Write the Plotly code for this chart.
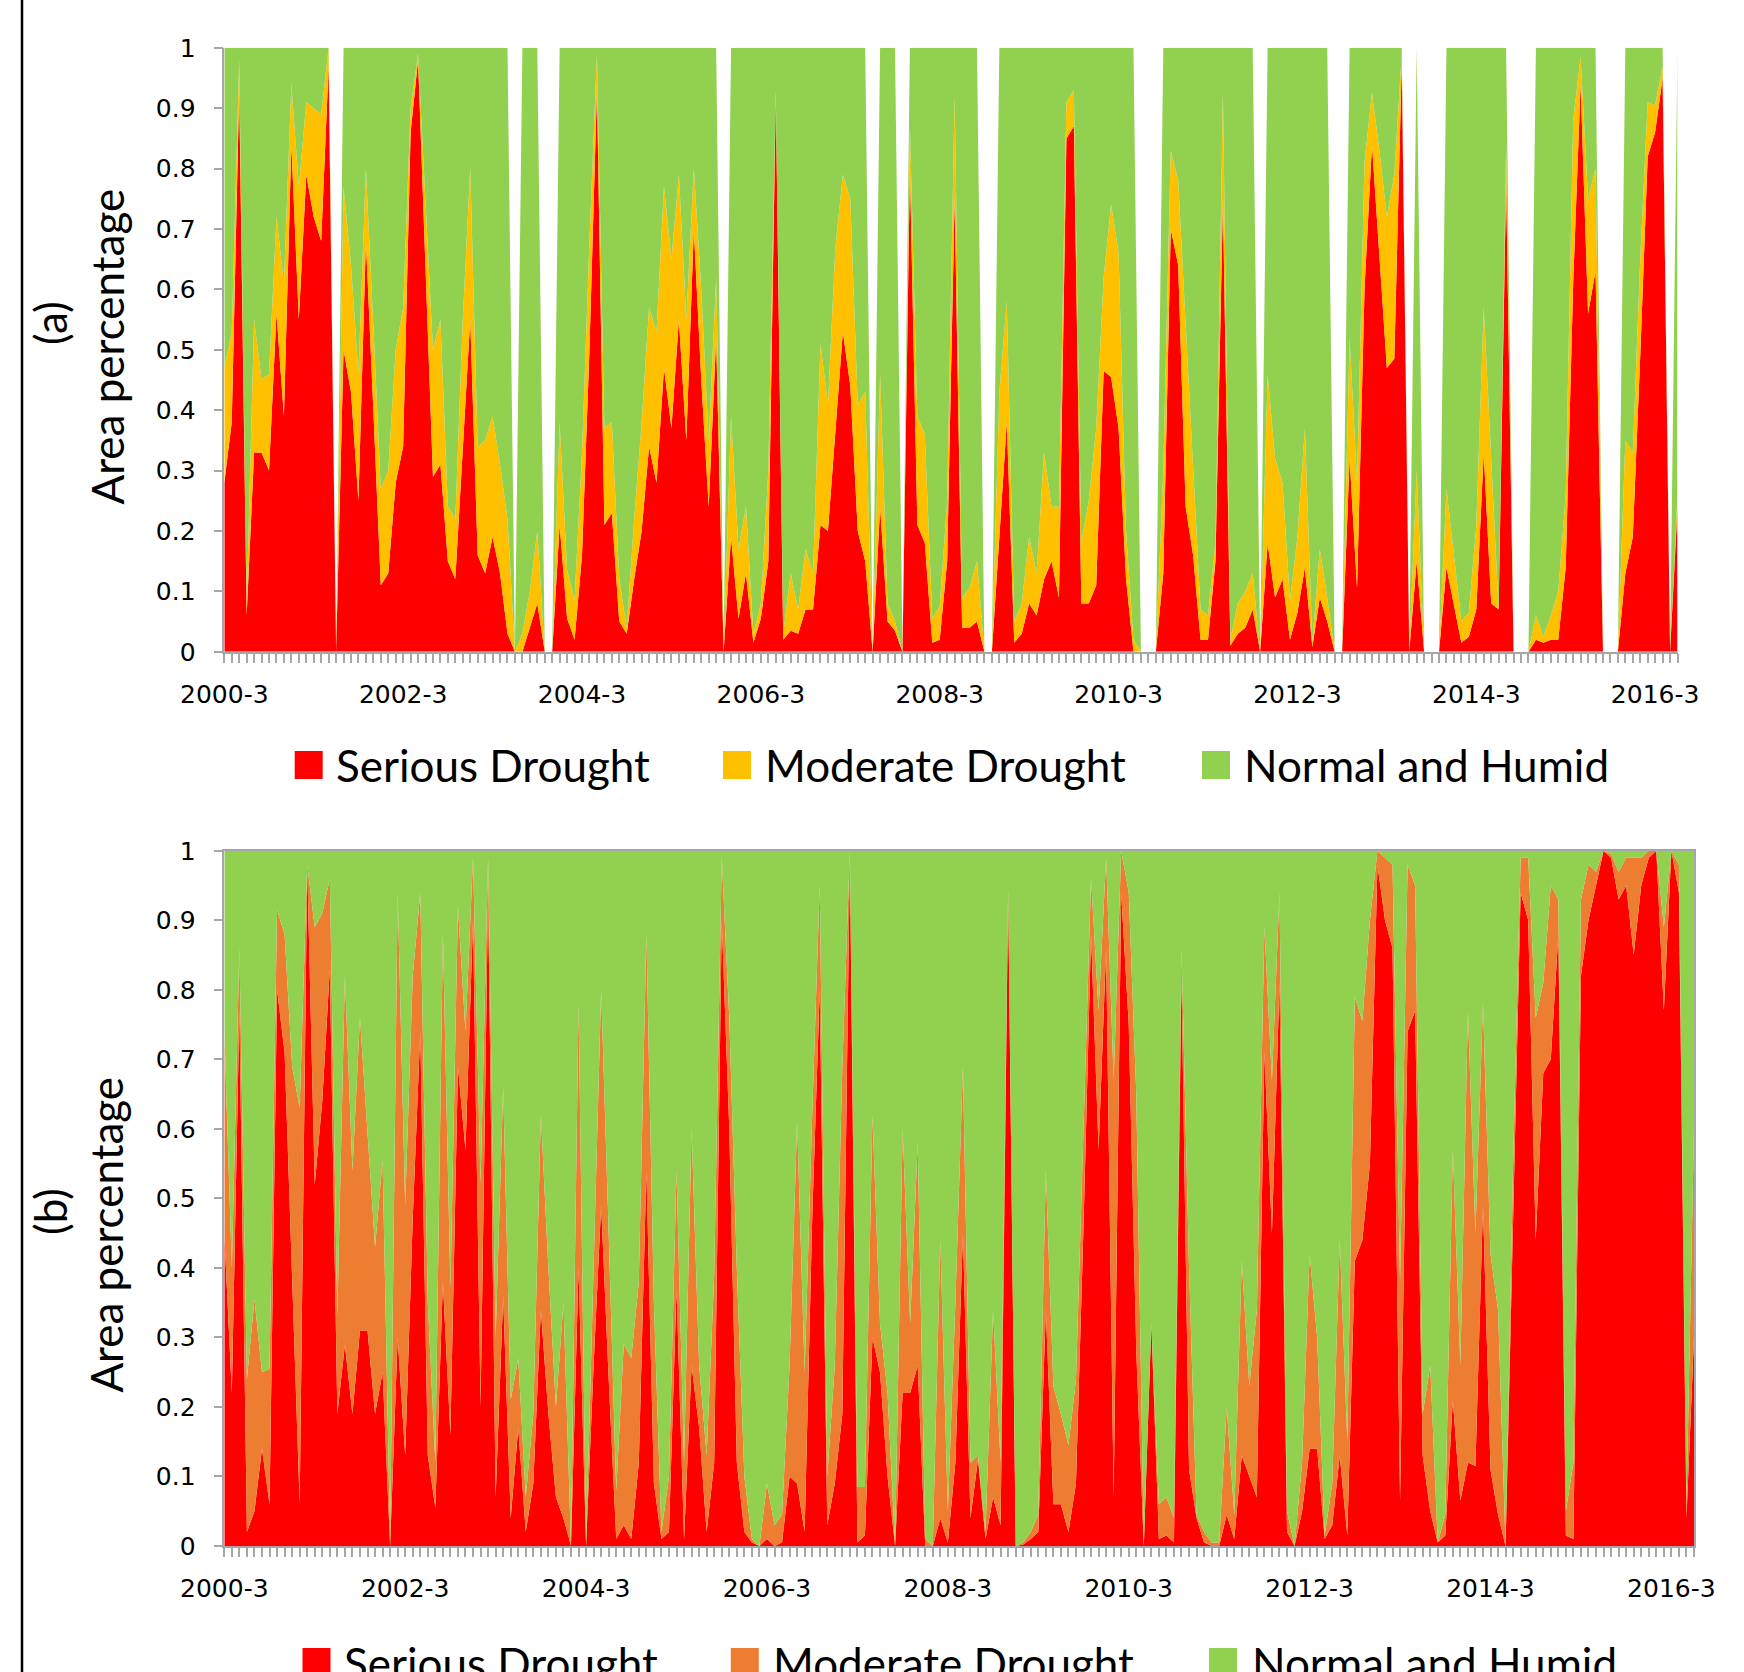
import plotly.graph_objects as go

W, H = 1744, 1672

# ---------------- categories (monthly, 2000-3 .. 2016-6) ----------------
months = []
_y, _m = 2000, 3
for _ in range(196):
    months.append(f"{_y}-{_m}")
    _m += 1
    if _m > 12:
        _m = 1
        _y += 1

tick_labels = ["2000-3", "2002-3", "2004-3", "2006-3", "2008-3",
               "2010-3", "2012-3", "2014-3", "2016-3"]
y_ticks = [0, 0.1, 0.2, 0.3, 0.4, 0.5, 0.6, 0.7, 0.8, 0.9, 1]

series_names = ["Serious Drought", "Moderate Drought", "Normal and Humid"]

# ---------------- panel (a) ----------------
# share of area with serious drought
serious_a = [
    0.28, 0.38, 0.93, 0.06, 0.33, 0.33, 0.30, 0.56, 0.39, 0.84, 0.55, 0.79,
    0.72, 0.68, 0.97, 0, 0.50, 0.43, 0.25, 0.68, 0.40, 0.11, 0.13, 0.28,
    0.34, 0.86, 0.98, 0.62, 0.29, 0.31, 0.15, 0.12, 0.33, 0.55, 0.16, 0.13,
    0.19, 0.13, 0.03, 0, 0.00, 0.04, 0.08, 0, 0, 0.21, 0.055, 0.02,
    0.16, 0.50, 0.93, 0.21, 0.23, 0.05, 0.03, 0.12, 0.20, 0.34, 0.28, 0.47,
    0.37, 0.55, 0.35, 0.70, 0.45, 0.24, 0.52, 0, 0.19, 0.055, 0.13, 0.015,
    0.055, 0.15, 0.92, 0.02, 0.035, 0.03, 0.07, 0.07, 0.21, 0.20, 0.36, 0.53,
    0.44, 0.20, 0.15, 0, 0.24, 0.05, 0.035, 0, 0.80, 0.21, 0.18, 0.015,
    0.02, 0.15, 0.75, 0.04, 0.04, 0.05, 0, 0, 0.19, 0.38, 0.015, 0.03,
    0.08, 0.06, 0.12, 0.15, 0.09, 0.85, 0.87, 0.08, 0.08, 0.11, 0.465, 0.455,
    0.37, 0.12, 0.0, 0, 0, 0, 0.13, 0.70, 0.64, 0.24, 0.16, 0.02,
    0.02, 0.15, 0.745, 0.01, 0.03, 0.04, 0.07, 0, 0.18, 0.09, 0.12, 0.02,
    0.065, 0.14, 0.008, 0.09, 0.05, 0, 0, 0.32, 0.105, 0.60, 0.84, 0.66,
    0.47, 0.485, 0.975, 0, 0.15, 0, 0, 0, 0.14, 0.08, 0.015, 0.025,
    0.07, 0.33, 0.08, 0.07, 0.78, 0, 0, 0, 0.02, 0.015, 0.02, 0.02,
    0.14, 0.61, 0.94, 0.56, 0.63, 0, 0, 0, 0.13, 0.19, 0.49, 0.82,
    0.86, 0.95, 0, 0.24,
]
# share of area with serious + moderate drought (upper edge of moderate band)
drought_a = [
    0.47, 0.53, 0.98, 0.08, 0.55, 0.45, 0.46, 0.72, 0.61, 0.94, 0.77, 0.91,
    0.90, 0.89, 1.00, 0, 0.77, 0.64, 0.46, 0.80, 0.54, 0.27, 0.30, 0.50,
    0.57, 0.90, 0.99, 0.74, 0.50, 0.55, 0.24, 0.22, 0.55, 0.80, 0.34, 0.35,
    0.39, 0.31, 0.22, 0, 0.03, 0.10, 0.20, 0, 0, 0.38, 0.135, 0.085,
    0.33, 0.68, 0.99, 0.37, 0.38, 0.12, 0.04, 0.22, 0.38, 0.57, 0.53, 0.77,
    0.65, 0.79, 0.55, 0.80, 0.60, 0.35, 0.62, 0, 0.39, 0.17, 0.24, 0.03,
    0.08, 0.30, 0.93, 0.03, 0.13, 0.07, 0.17, 0.13, 0.51, 0.41, 0.67, 0.79,
    0.75, 0.41, 0.43, 0, 0.46, 0.08, 0.05, 0, 0.87, 0.39, 0.36, 0.055,
    0.075, 0.25, 0.92, 0.09, 0.105, 0.15, 0, 0, 0.43, 0.58, 0.05, 0.08,
    0.19, 0.13, 0.33, 0.24, 0.24, 0.91, 0.93, 0.18, 0.25, 0.37, 0.62, 0.74,
    0.66, 0.20, 0.02, 0, 0, 0, 0.30, 0.83, 0.78, 0.54, 0.30, 0.07,
    0.06, 0.18, 0.925, 0.02, 0.08, 0.10, 0.13, 0, 0.46, 0.32, 0.28, 0.085,
    0.19, 0.37, 0.015, 0.17, 0.09, 0, 0, 0.52, 0.28, 0.81, 0.925, 0.83,
    0.72, 0.79, 0.99, 0, 0.30, 0, 0, 0, 0.27, 0.16, 0.05, 0.065,
    0.21, 0.57, 0.33, 0.07, 0.84, 0, 0, 0, 0.06, 0.025, 0.06, 0.10,
    0.26, 0.88, 0.985, 0.75, 0.80, 0, 0, 0, 0.35, 0.33, 0.65, 0.91,
    0.905, 0.97, 0, 0.26,
]
# months without any classified area in panel (a)
no_data_a = ["2001-6", "2003-6", "2003-10", "2003-11", "2005-10", "2007-6",
             "2007-10", "2008-9", "2008-10", "2010-6", "2010-7", "2010-8",
             "2011-10", "2012-8", "2012-9", "2013-6", "2013-8", "2013-9",
             "2013-10", "2014-8", "2014-9", "2014-10", "2015-8", "2015-9",
             "2015-10", "2016-5"]

# ---------------- panel (b) ----------------
serious_b = [
    0.45, 0.22, 0.77, 0.02, 0.05, 0.14, 0.06, 0.80, 0.71, 0.40, 0.06, 0.98,
    0.52, 0.64, 0.83, 0.19, 0.29, 0.19, 0.31, 0.31, 0.19, 0.25, 0.0, 0.30,
    0.13, 0.47, 0.74, 0.13, 0.055, 0.38, 0.16, 0.69, 0.57, 0.90, 0.20, 0.94,
    0.07, 0.36, 0.04, 0.17, 0.02, 0.09, 0.34, 0.19, 0.07, 0.04, 0.0, 0.40,
    0.0, 0.26, 0.49, 0.24, 0.01, 0.03, 0.01, 0.12, 0.54, 0.09, 0.01, 0.02,
    0.37, 0.01, 0.26, 0.17, 0.02, 0.12, 0.90, 0.60, 0.12, 0.02, 0.005, 0.0,
    0.01, 0.0, 0.005, 0.10, 0.09, 0.02, 0.47, 0.80, 0.03, 0.09, 0.19, 0.99,
    0.005, 0.015, 0.30, 0.25, 0.10, 0.0, 0.22, 0.22, 0.26, 0.0, 0.0, 0.04,
    0.005, 0.12, 0.45, 0.04, 0.125, 0.01, 0.07, 0.03, 0.94, 0.0, 0.002, 0.01,
    0.02, 0.34, 0.06, 0.06, 0.02, 0.09, 0.46, 0.88, 0.57, 0.86, 0.07, 0.94,
    0.75, 0.28, 0.0, 0.32, 0.01, 0.015, 0.005, 0.82, 0.11, 0.04, 0.005, 0.0,
    0.0, 0.045, 0.01, 0.13, 0.10, 0.07, 0.71, 0.45, 0.81, 0.02, 0.0, 0.05,
    0.14, 0.14, 0.01, 0.03, 0.13, 0.015, 0.41, 0.44, 0.55, 0.98, 0.90, 0.86,
    0.065, 0.74, 0.77, 0.13, 0.05, 0.005, 0.015, 0.21, 0.065, 0.12, 0.115, 0.49,
    0.11, 0.045, 0.0, 0.45, 0.94, 0.90, 0.44, 0.68, 0.70, 0.88, 0.015, 0.01,
    0.82, 0.90, 0.95, 1.0, 0.99, 0.93, 0.95, 0.85, 0.95, 0.99, 1.0, 0.77,
    1.0, 0.94, 0.04, 0.30,
]
drought_b = [
    0.74, 0.40, 0.86, 0.24, 0.355, 0.25, 0.255, 0.915, 0.88, 0.69, 0.63, 0.98,
    0.89, 0.91, 0.96, 0.33, 0.82, 0.54, 0.76, 0.60, 0.43, 0.555, 0.01, 0.94,
    0.49, 0.82, 0.94, 0.35, 0.12, 0.88, 0.37, 0.92, 0.74, 0.99, 0.52, 0.99,
    0.30, 0.66, 0.21, 0.27, 0.07, 0.19, 0.62, 0.40, 0.20, 0.35, 0.0, 0.78,
    0.0, 0.40, 0.80, 0.45, 0.08, 0.29, 0.27, 0.38, 0.88, 0.35, 0.02, 0.10,
    0.54, 0.12, 0.60, 0.26, 0.13, 0.39, 0.99, 0.76, 0.40, 0.10, 0.01, 0.0,
    0.09, 0.03, 0.045, 0.26, 0.61, 0.25, 0.62, 0.95, 0.10, 0.26, 0.69, 1.0,
    0.085, 0.085, 0.62, 0.32, 0.22, 0.0, 0.60, 0.32, 0.58, 0.01, 0.0, 0.44,
    0.05, 0.35, 0.69, 0.12, 0.13, 0.02, 0.34, 0.12, 0.945, 0.0, 0.005, 0.02,
    0.045, 0.54, 0.23, 0.19, 0.145, 0.24, 0.61, 0.96, 0.77, 0.99, 0.67, 1.0,
    0.94, 0.65, 0.0, 0.32, 0.06, 0.07, 0.04, 0.86, 0.40, 0.045, 0.02, 0.005,
    0.005, 0.20, 0.045, 0.41, 0.23, 0.34, 0.89, 0.67, 0.94, 0.05, 0.0, 0.12,
    0.42, 0.30, 0.015, 0.09, 0.44, 0.15, 0.79, 0.755, 0.90, 1.0, 0.99, 0.98,
    0.38, 0.98, 0.95, 0.19, 0.26, 0.005, 0.045, 0.57, 0.26, 0.77, 0.45, 0.78,
    0.42, 0.34, 0.0, 0.55, 0.99, 0.99, 0.76, 0.81, 0.95, 0.93, 0.05, 0.12,
    0.93, 0.98, 0.97, 1.0, 0.995, 0.97, 0.99, 0.99, 0.99, 1.0, 1.0, 0.89,
    1.0, 0.98, 0.06, 0.60,
]
no_data_b = []

colors_a = ["#FF0000", "#FFC000", "#92D050"]
colors_b = ["#FF0000", "#ED7D31", "#92D050"]

# ---------------- helpers (pixel -> paper) ----------------
def px(x):
    return x / W


def py(y):
    return 1 - y / H


fig = go.Figure()


def add_panel(serious, drought, no_data, colors, xa, ya):
    top = [0 if mo in no_data else 1 for mo in months]
    layers = [serious, drought, top]
    for k, (vals, name, col) in enumerate(zip(layers, series_names, colors)):
        fig.add_trace(go.Scatter(
            x=months, y=vals, name=name, mode="lines",
            line=dict(width=0, color=col),
            fill="tozeroy" if k == 0 else "tonexty",
            fillcolor=col, showlegend=False,
            xaxis=xa, yaxis=ya, hoverinfo="skip",
        ))


add_panel(serious_a, drought_a, no_data_a, colors_a, "x", "y")
add_panel(serious_b, drought_b, no_data_b, colors_b, "x2", "y2")

AX_COL = "#A6A6A6"
tick_font = dict(family="DejaVu Sans", size=25, color="#000000")
ticktext = [mo if mo in tick_labels else "" for mo in months]

xcommon = dict(
    type="category", range=[0, len(months) - 1], tickmode="array",
    tickvals=months, ticktext=ticktext, ticks="outside", ticklen=9,
    tickcolor=AX_COL, tickwidth=1.5, showline=True, linecolor=AX_COL,
    linewidth=1.5, showgrid=False, zeroline=False, tickangle=0,
    tickfont=tick_font, fixedrange=True, automargin=False,
    ticklabelstandoff=10,
)
ycommon = dict(
    range=[0, 1], tickmode="array", tickvals=y_ticks, ticks="outside",
    ticklen=9, tickcolor=AX_COL, tickwidth=1.5, showline=True,
    linecolor=AX_COL, linewidth=1.5, showgrid=False, zeroline=False,
    tickfont=tick_font, fixedrange=True, automargin=False,
    ticklabelstandoff=13,
)

fig.update_layout(
    width=W, height=H, autosize=False,
    margin=dict(l=0, r=0, t=0, b=0, pad=0, autoexpand=False),
    paper_bgcolor="white", plot_bgcolor="white",
    showlegend=False,
    xaxis=dict(xcommon, domain=[px(224.3), px(1677.5)], anchor="y"),
    yaxis=dict(ycommon, domain=[py(651.8), py(47.8)], anchor="x"),
    xaxis2=dict(xcommon, domain=[px(224.3), px(1694)], anchor="y2", mirror=True),
    yaxis2=dict(ycommon, domain=[py(1546), py(850.8)], anchor="x2", mirror=True),
)

title_font = dict(family="Lato", size=44, color="#000000")
annotations = []
shapes = []

# y-axis titles
for lab, ylab, ytitle in [("(a)", 323, 346.5), ("(b)", 1212, 1234.6)]:
    annotations.append(dict(text=lab, x=px(50), y=py(ylab), xref="paper",
                            yref="paper", showarrow=False, textangle=-90,
                            font=title_font, xanchor="center", yanchor="middle"))
    annotations.append(dict(text="Area percentage", x=px(106), y=py(ytitle),
                            xref="paper", yref="paper", showarrow=False,
                            textangle=-90, font=title_font,
                            xanchor="center", yanchor="middle"))

# legends (drawn as swatches + text)
legend_rows = [
    (colors_a, [294.7, 723.0, 1202.0], [333.7, 763.0, 1242.3], 751.0, 765.0),
    (colors_b, [302.5, 730.8, 1209.0], [341.5, 770.8, 1250.0], 1648.0, 1663.0),
]
for cols, sq_x, tx_x, sq_top, tx_mid in legend_rows:
    for col, sx, tx, name in zip(cols, sq_x, tx_x, series_names):
        shapes.append(dict(type="rect", xref="paper", yref="paper",
                           x0=px(sx), x1=px(sx + 28), y0=py(sq_top + 28),
                           y1=py(sq_top), fillcolor=col, line=dict(width=0)))
        annotations.append(dict(text=name, x=px(tx), y=py(tx_mid),
                                xref="paper", yref="paper", showarrow=False,
                                font=title_font, xanchor="left",
                                yanchor="middle"))

# left border line
shapes.append(dict(type="line", xref="paper", yref="paper", x0=px(22),
                   x1=px(22), y0=0, y1=1, line=dict(color="black", width=2.5)))

fig.update_layout(annotations=annotations, shapes=shapes)

fig.write_html("out.html")
